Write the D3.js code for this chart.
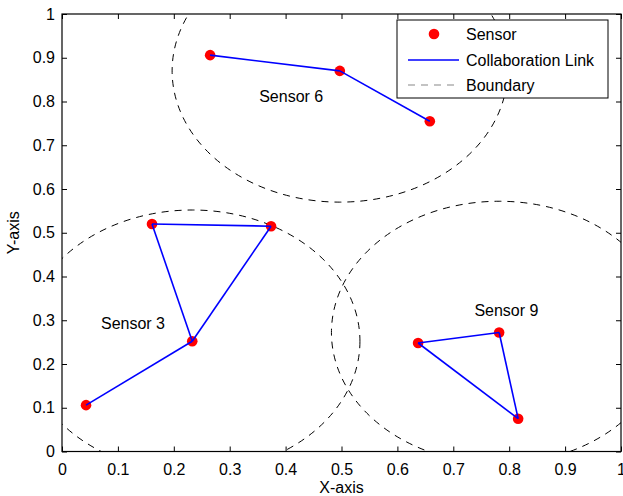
<!DOCTYPE html>
<html>
<head>
<meta charset="utf-8">
<script src="https://cdn.jsdelivr.net/npm/d3@7"></script>
<style>
  body { margin: 0; background: #fff; }
  text { font-family: "Liberation Sans", Arial, sans-serif; }
</style>
</head>
<body>
<script>
// sensor positions, one array per cluster
var cluster3 = [[0.043, 0.106], [0.233, 0.252], [0.161, 0.520], [0.374, 0.515]];
var cluster6 = [[0.265, 0.906], [0.497, 0.870], [0.658, 0.755]];
var cluster9 = [[0.637, 0.248], [0.782, 0.272], [0.816, 0.075]];

// collaboration links (index pairs in each cluster)
var links3 = [[0, 1], [1, 2], [2, 3], [3, 1]];
var links6 = [[0, 1], [1, 2]];
var links9 = [[0, 1], [1, 2], [2, 0]];

// boundary circles: centre sensors and radius
var boundaryNames = ["Sensor 3", "Sensor 6", "Sensor 9"];
var boundaryCenters = [[0.233, 0.252], [0.497, 0.870], [0.782, 0.272]];
var boundaryRadius = 0.3;

// label positions for each boundary
var labelPos = [[0.127, 0.28], [0.41, 0.80], [0.795, 0.31]];

var ticks = [0, 0.1, 0.2, 0.3, 0.4, 0.5, 0.6, 0.7, 0.8, 0.9, 1];

var full_width = 623, full_height = 496;
var margin = {top: 14, right: 2, bottom: 44.5, left: 62},
  width = full_width - margin.left - margin.right,
  height = full_height - margin.top - margin.bottom;

var x = d3.scaleLinear().domain([0, 1]).range([0, width]);
var y = d3.scaleLinear().domain([0, 1]).range([height, 0]);

var svg = d3.select("body").append("svg")
  .attr("width", full_width)
  .attr("height", full_height)
  .append("g")
  .attr("transform", "translate(" + margin.left + "," + margin.top + ")");

svg.append("defs").append("clipPath").attr("id", "clip")
  .append("rect").attr("width", width).attr("height", height);

var plot = svg.append("g").attr("clip-path", "url(#clip)");

// boundaries
plot.selectAll("ellipse.boundary")
  .data(boundaryCenters)
  .enter().append("ellipse")
  .attr("class", "boundary")
  .attr("cx", function(d) { return x(d[0]); })
  .attr("cy", function(d) { return y(d[1]); })
  .attr("rx", x(boundaryRadius) - x(0))
  .attr("ry", y(0) - y(boundaryRadius))
  .attr("fill", "none")
  .attr("stroke", "#000")
  .attr("stroke-width", 1)
  .attr("stroke-dasharray", "7,6");

// sensors then links
var clusters = [[cluster3, links3], [cluster6, links6], [cluster9, links9]];
clusters.forEach(function(c) {
  plot.selectAll(null)
    .data(c[0])
    .enter().append("circle")
    .attr("cx", function(d) { return x(d[0]); })
    .attr("cy", function(d) { return y(d[1]); })
    .attr("r", 5.3)
    .attr("fill", "#ff0000");
});
clusters.forEach(function(c) {
  plot.selectAll(null)
    .data(c[1])
    .enter().append("line")
    .attr("x1", function(d) { return x(c[0][d[0]][0]); })
    .attr("y1", function(d) { return y(c[0][d[0]][1]); })
    .attr("x2", function(d) { return x(c[0][d[1]][0]); })
    .attr("y2", function(d) { return y(c[0][d[1]][1]); })
    .attr("stroke", "#0000ff")
    .attr("stroke-width", 1.6);
});

// cluster labels
svg.selectAll("text.label")
  .data(boundaryNames)
  .enter().append("text")
  .attr("class", "label")
  .attr("x", function(d, i) { return x(labelPos[i][0]); })
  .attr("y", function(d, i) { return y(labelPos[i][1]); })
  .attr("text-anchor", "middle")
  .attr("font-size", "16px")
  .attr("fill", "#000")
  .text(function(d) { return d; });

// axes, MATLAB-style box with inward ticks
var fmt = function(d) { return d3.format("")(d); };
function styleAxis(g) {
  g.selectAll(".domain").remove();
  g.selectAll("line").attr("stroke", "#000");
  g.selectAll("text").attr("font-size", "16px").attr("fill", "#000");
}
svg.append("g")
  .attr("transform", "translate(0," + height + ")")
  .call(d3.axisBottom(x).tickValues(ticks).tickFormat(fmt).tickSize(-5).tickPadding(12))
  .call(styleAxis);
svg.append("g")
  .call(d3.axisLeft(y).tickValues(ticks).tickFormat(fmt).tickSize(-5).tickPadding(7))
  .call(styleAxis);
svg.append("g")
  .call(d3.axisTop(x).tickValues(ticks).tickFormat("").tickSize(-5))
  .call(styleAxis);
svg.append("g")
  .attr("transform", "translate(" + width + ",0)")
  .call(d3.axisRight(y).tickValues(ticks).tickFormat("").tickSize(-5))
  .call(styleAxis);

svg.append("rect")
  .attr("width", width).attr("height", height)
  .attr("fill", "none").attr("stroke", "#000").attr("stroke-width", 1.2);

// axis titles
svg.append("text")
  .attr("x", width / 2).attr("y", height + 41)
  .attr("text-anchor", "middle").attr("font-size", "16px")
  .text("X-axis");
svg.append("text")
  .attr("transform", "translate(" + (-43) + "," + (height / 2) + ") rotate(-90)")
  .attr("text-anchor", "middle").attr("font-size", "16px")
  .text("Y-axis");

// legend
var legend = svg.append("g").attr("transform", "translate(335,6)");
legend.append("rect")
  .attr("width", 211).attr("height", 78)
  .attr("fill", "#fff").attr("stroke", "#000").attr("stroke-width", 1);
var legendItems = ["Sensor", "Collaboration Link", "Boundary"];
legend.selectAll("text")
  .data(legendItems)
  .enter().append("text")
  .attr("x", 69)
  .attr("y", function(d, i) { return 20 + i * 25.5; })
  .attr("font-size", "16px")
  .text(function(d) { return d; });
legend.append("circle").attr("cx", 37).attr("cy", 14).attr("r", 5.3).attr("fill", "#ff0000");
legend.append("line").attr("x1", 11).attr("x2", 62).attr("y1", 40).attr("y2", 40)
  .attr("stroke", "#0000ff").attr("stroke-width", 1.6);
legend.append("line").attr("x1", 11).attr("x2", 62).attr("y1", 65).attr("y2", 65)
  .attr("stroke", "#888").attr("stroke-width", 1.2).attr("stroke-dasharray", "7,6");
</script>
</body>
</html>
